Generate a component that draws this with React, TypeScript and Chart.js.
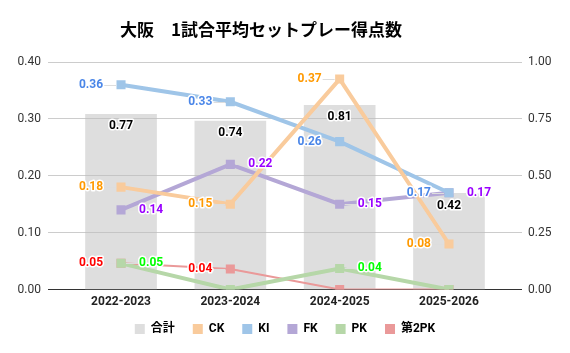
import React, { useEffect, useRef } from "react";
import { Chart, registerables } from "chart.js";

Chart.register(...registerables);

const categories = ["2022-2023", "2023-2024", "2024-2025", "2025-2026"];
const seriesNames = ["合計", "CK", "KI", "FK", "PK", "第2PK"];
const totalValues = [0.77, 0.74, 0.81, 0.42];
const ckValues = [0.18, 0.15, 0.37, 0.08];
const kiValues = [0.36, 0.33, 0.26, 0.17];
const fkValues = [0.14, 0.22, 0.15, 0.17];
const pkValues = [0.046, 0, 0.037, 0];
const pk2Values = [0.046, 0.036, 0, 0];
const leftTicks = [0, 0.1, 0.2, 0.3, 0.4];
const rightTicks = [0, 0.25, 0.5, 0.75, 1];

const seriesValues = [totalValues, ckValues, kiValues, fkValues, pkValues, pk2Values];
const seriesColors = ["rgba(190,190,190,0.5)", "#f9cb9c", "#9fc5e8", "#b4a7d6", "#b6d7a8", "#ea9999"];
const legendColors = ["#dedede", "#f9cb9c", "#9fc5e8", "#b4a7d6", "#b6d7a8", "#ea9999"];
const labelColors = ["#000000", "#ff9900", "#4a86e8", "#9900ff", "#00ff00", "#ff0000"];
const labelSides = ["inside", "left", "left", "right", "right", "left"];
const lineWidths = [0, 4, 4, 4, 4, 2];

const FONT = "Roboto, 'Noto Sans CJK JP', sans-serif";

const titleShiftPlugin = {
  id: "titleShift",
  afterLayout(chart: any) {
    if (chart.titleBlock) {
      chart.titleBlock.right = chart.titleBlock.left + 522;
    }
  },
};

const labelPlugin = {
  id: "valueLabels",
  afterDatasetsDraw(chart: any) {
    const ctx = chart.ctx;
    ctx.save();
    ctx.font = `bold 12px ${FONT}`;
    ctx.textBaseline = "middle";
    ctx.lineJoin = "round";
    chart.data.datasets.forEach((_ds: any, di: number) => {
      const meta = chart.getDatasetMeta(di);
      const side = labelSides[di];
      meta.data.forEach((el: any, i: number) => {
        const v = seriesValues[di][i];
        if (!v) return;
        const text = v.toFixed(2);
        let tx = el.x;
        let ty = el.y;
        if (side === "inside") {
          ctx.textAlign = "center";
          ty = el.y + 12;
        } else if (side === "left") {
          ctx.strokeStyle = "#dddddd";
          ctx.lineWidth = 1;
          ctx.beginPath();
          ctx.moveTo(el.x - 17, Math.round(el.y) + 0.5);
          ctx.lineTo(el.x - 5, Math.round(el.y) + 0.5);
          ctx.stroke();
          ctx.textAlign = "right";
          tx = el.x - 18;
        } else {
          ctx.strokeStyle = "#dddddd";
          ctx.lineWidth = 1;
          ctx.beginPath();
          ctx.moveTo(el.x + 5, Math.round(el.y) + 0.5);
          ctx.lineTo(el.x + 17, Math.round(el.y) + 0.5);
          ctx.stroke();
          ctx.textAlign = "left";
          tx = el.x + 18;
        }
        ctx.strokeStyle = "#ffffff";
        ctx.lineWidth = 3;
        ctx.strokeText(text, tx, ty);
        ctx.fillStyle = labelColors[di];
        ctx.fillText(text, tx, ty);
      });
    });
    ctx.restore();
  },
};

export default function App() {
  const ref = useRef<HTMLCanvasElement | null>(null);

  useEffect(() => {
    if (!ref.current) return;
    const datasets: any[] = seriesNames.map((name, di) => {
      const data = seriesValues[di].map((v, i) => ({ x: i, y: v }));
      if (di === 0) {
        return {
          type: "bar",
          label: name,
          data,
          yAxisID: "y1",
          backgroundColor: seriesColors[0],
          borderWidth: 0,
          barThickness: 71,
          order: 10,
        };
      }
      return {
        type: "line",
        label: name,
        data,
        yAxisID: "y",
        borderColor: seriesColors[di],
        backgroundColor: seriesColors[di],
        borderWidth: lineWidths[di],
        pointStyle: "rect",
        pointRadius: 6.4,
        pointBorderWidth: 0,
        pointBackgroundColor: seriesColors[di],
        tension: 0,
        fill: false,
        order: 0,
      };
    });

    const chart = new Chart(ref.current, {
      type: "bar",
      data: { datasets },
      plugins: [labelPlugin, titleShiftPlugin],
      options: {
        animation: false,
        responsive: false,
        layout: { padding: { left: 0, right: 0, top: 0, bottom: 8 } },
        plugins: {
          tooltip: { enabled: false },
          title: {
            display: true,
            text: "大阪　1試合平均セットプレー得点数",
            color: "#000",
            font: { family: "'Noto Sans CJK JP', sans-serif", size: 17, weight: "bold", lineHeight: 1.2 },
            padding: { top: 19, bottom: 22.6 },
          },
          legend: {
            position: "bottom",
            labels: {
              boxWidth: 10,
              boxHeight: 10,
              padding: 18,
              color: "#222",
              font: { family: FONT, size: 12, weight: "bold" },
              sort: (a: any, b: any) => a.datasetIndex - b.datasetIndex,
              generateLabels: (c: any) =>
                c.data.datasets.map((ds: any, i: number) => ({
                  text: ds.label,
                  fillStyle: legendColors[i],
                  strokeStyle: legendColors[i],
                  lineWidth: 0,
                  hidden: false,
                  datasetIndex: i,
                })),
            },
          },
        },
        scales: {
          x: {
            type: "linear",
            offset: false,
            min: -0.668,
            max: 3.668,
            grid: { display: false, drawTicks: false, offset: false },
            border: { display: false },
            afterBuildTicks: (s: any) => {
              s.ticks = categories.map((_, i) => ({ value: i }));
            },
            afterFit: (s: any) => {
              s.height = 15.5;
            },
            ticks: {
              padding: 5,
              autoSkip: false,
              maxRotation: 0,
              color: "#222",
              font: { family: FONT, size: 12, weight: "bold" },
              callback: (v: any) => categories[Math.round(Number(v))] ?? "",
            },
          },
          y: {
            position: "left",
            min: 0,
            max: 0.4,
            afterBuildTicks: (s: any) => {
              s.ticks = leftTicks.map((v) => ({ value: v }));
            },
            afterFit: (s: any) => {
              s.width = 48;
            },
            grid: {
              drawTicks: false,
              color: (c: any) => (c.tick && c.tick.value === 0 ? "#333333" : "#cccccc"),
            },
            border: { display: false },
            ticks: {
              padding: 7,
              color: "#333",
              font: { family: FONT, size: 12 },
              callback: (v: any) => Number(v).toFixed(2),
            },
          },
          y1: {
            position: "right",
            min: 0,
            max: 1,
            afterBuildTicks: (s: any) => {
              s.ticks = rightTicks.map((v) => ({ value: v }));
            },
            afterFit: (s: any) => {
              s.width = 48;
            },
            grid: { display: false, drawTicks: false },
            border: { display: false },
            ticks: {
              padding: 6,
              color: "#333",
              font: { family: FONT, size: 12 },
              callback: (v: any) => Number(v).toFixed(2),
            },
          },
        },
      } as any,
    });
    return () => chart.destroy();
  }, []);

  return (
    <div style={{ position: "fixed", left: 0, top: 0, width: 570, height: 353, background: "#fff" }}>
      <canvas ref={ref} width={570} height={353} />
    </div>
  );
}
